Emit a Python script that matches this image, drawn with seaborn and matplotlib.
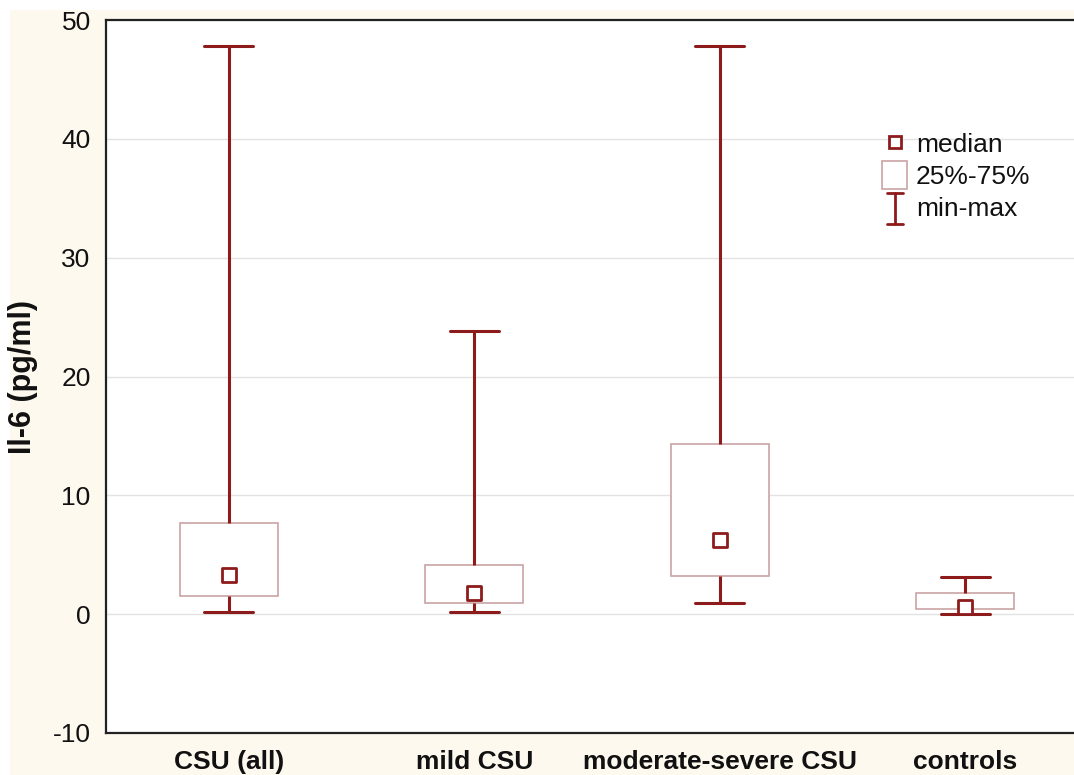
import numpy as np
import pandas as pd
import matplotlib.pyplot as plt
import matplotlib.patches as mpatches
from matplotlib.legend_handler import HandlerBase
from matplotlib.lines import Line2D
import seaborn as sns

# five-number summaries (pg/ml)
groups = ["CSU (all)", "mild CSU", "moderate-severe CSU", "controls"]
mins = [0.2, 0.2, 0.95, 0.05]
q1s = [1.55, 0.95, 3.2, 0.4]
medians = [3.3, 1.8, 6.2, 0.6]
q3s = [7.7, 4.15, 14.35, 1.8]
maxs = [47.8, 23.8, 47.8, 3.1]

DARK = "#8E1B1B"
PINK = "#C9A3A3"
CREAM = "#FDF9EF"

# 5 points per group -> quartiles equal q1/median/q3, whiskers at min/max
rows = []
for g, a, b, c, d, e in zip(groups, mins, q1s, medians, q3s, maxs):
    for v in (a, b, c, d, e):
        rows.append({"group": g, "value": v})
df = pd.DataFrame(rows)
med_df = pd.DataFrame({"group": groups, "value": medians})

sns.set_style("white")
plt.rcParams["font.family"] = ["Liberation Sans", "DejaVu Sans"]
plt.rcParams["axes.unicode_minus"] = False

fig = plt.figure(figsize=(10.74, 7.75), dpi=100)
fig.patch.set_facecolor("white")
fig.patches.append(mpatches.Rectangle((10 / 1074, 0), 1, 1 - 10 / 775,
                                      transform=fig.transFigure,
                                      facecolor=CREAM, edgecolor="none", zorder=-10))
ax = fig.add_axes([106 / 1074, 42 / 775, (1088 - 106) / 1074, (733 - 20) / 775])
ax.set_facecolor("white")

sns.boxplot(data=df, x="group", y="value", order=groups, whis=np.inf, width=0.4,
            fliersize=0, ax=ax,
            boxprops=dict(facecolor="white", edgecolor=PINK, linewidth=1.2),
            whiskerprops=dict(color=DARK, linewidth=2.2),
            capprops=dict(color=DARK, linewidth=2.2),
            medianprops=dict(visible=False))
sns.scatterplot(data=med_df, x="group", y="value", marker="s", s=110,
                facecolor="white", edgecolor=DARK, linewidth=2, zorder=5, ax=ax)

ax.set_ylim(-10, 50)
ax.set_xlim(-0.5, 3.5)
ax.set_yticks(range(-10, 51, 10))
ax.yaxis.grid(True, color="#E2E2E2", linewidth=1)
ax.set_axisbelow(True)
ax.set_xlabel("")
ax.set_ylabel("Il-6 (pg/ml)", fontsize=22, fontweight="bold", color="#111111")
ax.yaxis.set_label_coords(-0.069, 0.5)
ax.tick_params(axis="y", length=0, labelsize=19, pad=11, labelcolor="#111111")
ax.tick_params(axis="x", direction="in", length=5, width=1, labelsize=19, pad=12,
               labelcolor="#111111")
for lbl in ax.get_xticklabels():
    lbl.set_fontweight("bold")
for side in ("left", "top", "bottom"):
    ax.spines[side].set_visible(True)
    ax.spines[side].set_color("#222222")
    ax.spines[side].set_linewidth(1.6)
ax.spines["right"].set_visible(False)


class IBeamHandler(HandlerBase):
    def create_artists(self, legend, orig_handle, xd, yd, width, height, fontsize, trans):
        cx = xd + width / 2
        lo, hi = yd - height * 0.4, yd + height * 1.25
        w = width * 0.3
        lines = [Line2D([cx, cx], [lo, hi]),
                 Line2D([cx - w, cx + w], [lo, lo]),
                 Line2D([cx - w, cx + w], [hi, hi])]
        for ln in lines:
            ln.set_color(DARK)
            ln.set_linewidth(2)
            ln.set_transform(trans)
        return lines


class BoxHandler(HandlerBase):
    def create_artists(self, legend, orig_handle, xd, yd, width, height, fontsize, trans):
        s = height * 1.5
        r = mpatches.Rectangle((xd + width / 2 - s * 0.45, yd - height * 0.25), s * 0.9, s,
                               facecolor="white", edgecolor=PINK, linewidth=1.2, transform=trans)
        return [r]


med_handle = Line2D([], [], marker="s", linestyle="none", markersize=9,
                    markerfacecolor="white", markeredgecolor=DARK, markeredgewidth=2)
box_handle = mpatches.Patch()
mm_handle = Line2D([], [])
ax.legend([med_handle, box_handle, mm_handle], ["median", "25%-75%", "min-max"],
          handler_map={box_handle: BoxHandler(), mm_handle: IBeamHandler()},
          loc="upper left", bbox_to_anchor=(871 / 1074, 1 - 122 / 775),
          bbox_transform=fig.transFigure, frameon=False, fontsize=19,
          handlelength=1.0, handletextpad=0.3, labelspacing=0.32, borderaxespad=0,
          labelcolor="#111111")

fig.savefig("out.png", dpi=100, facecolor=fig.get_facecolor())
